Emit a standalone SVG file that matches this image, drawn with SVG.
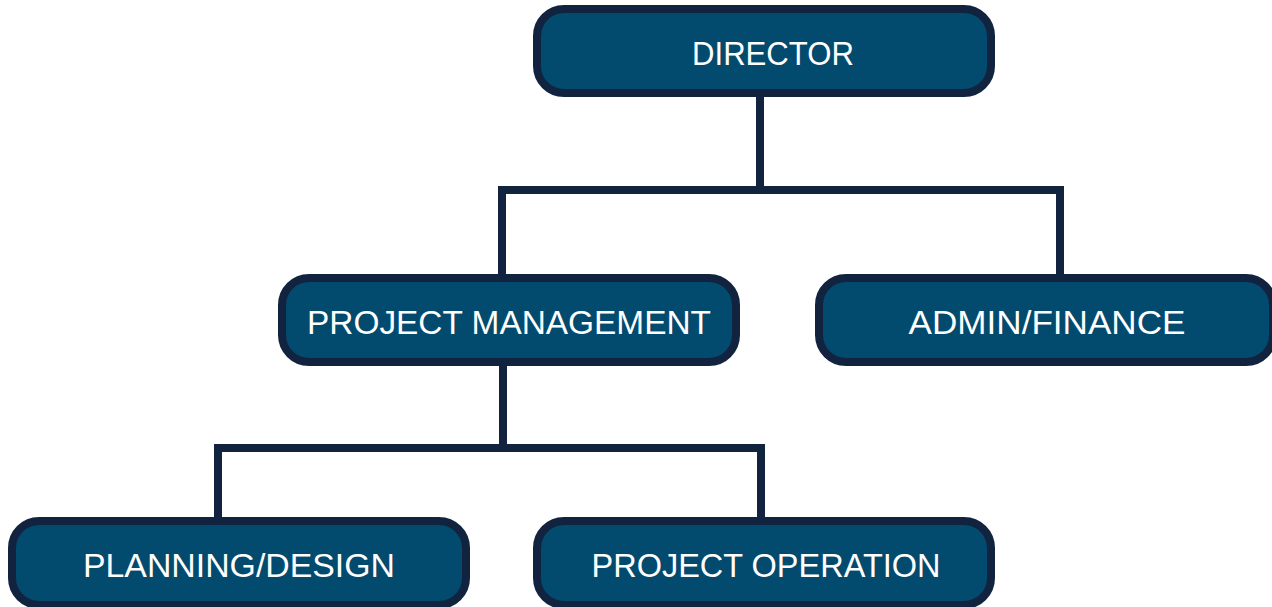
<svg xmlns="http://www.w3.org/2000/svg" width="1272" height="607" viewBox="0 0 1272 607">
<style>
.box{fill:#024a6e;stroke:#12233f;stroke-width:8}
.lbl{fill:#ffffff;font-family:"Liberation Sans",Arial,sans-serif;font-size:34px;text-anchor:middle}
.conn{fill:none;stroke:#12233f;stroke-width:8}
</style>
<rect width="1272" height="607" fill="#ffffff"/>
<g id="connectors">
<path class="conn" d="M760 97 V190"/>
<path class="conn" d="M502 274 V190 H1060 V274"/>
<path class="conn" d="M503 366 V448"/>
<path class="conn" d="M218 517 V448 H761 V517"/>
</g>
<g id="director">
<rect class="box" x="537" y="9" width="454" height="84" rx="27"/>
<text class="lbl" x="773" y="65" textLength="162" lengthAdjust="spacingAndGlyphs">DIRECTOR</text>
</g>
<g id="project-management">
<rect class="box" x="282" y="278" width="454" height="84" rx="27"/>
<text class="lbl" x="509" y="334" textLength="404" lengthAdjust="spacingAndGlyphs">PROJECT MANAGEMENT</text>
</g>
<g id="admin-finance">
<rect class="box" x="819" y="278" width="454" height="84" rx="27"/>
<text class="lbl" x="1047" y="334" textLength="277" lengthAdjust="spacingAndGlyphs">ADMIN/FINANCE</text>
</g>
<g id="planning-design">
<rect class="box" x="12" y="521" width="454" height="84" rx="27"/>
<text class="lbl" x="239" y="577" textLength="312" lengthAdjust="spacingAndGlyphs">PLANNING/DESIGN</text>
</g>
<g id="project-operation">
<rect class="box" x="537" y="521" width="454" height="84" rx="27"/>
<text class="lbl" x="766" y="577" textLength="349" lengthAdjust="spacingAndGlyphs">PROJECT OPERATION</text>
</g>
</svg>
